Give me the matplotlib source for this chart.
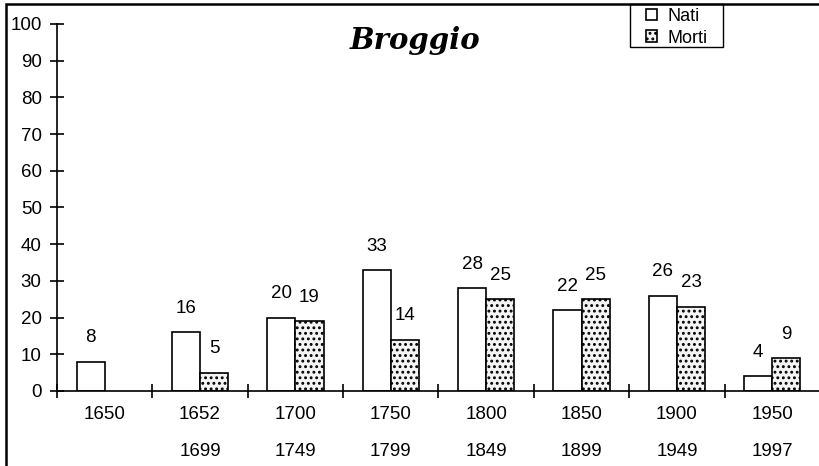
import numpy as np
import matplotlib
matplotlib.use("Agg")
import matplotlib.pyplot as plt
from matplotlib.patches import Rectangle

plt.rcParams["font.family"] = ["Liberation Sans", "DejaVu Sans"]
plt.rcParams["hatch.color"] = "#8a8a8a"
plt.rcParams["hatch.linewidth"] = 1.3

periods = ["1650", "1652\n1699", "1700\n1749", "1750\n1799", "1800\n1849",
           "1850\n1899", "1900\n1949", "1950\n1997"]
nati = [8, 16, 20, 33, 28, 22, 26, 4]
morti = [np.nan, 5, 19, 14, 25, 25, 23, 9]

W, H = 820, 466
fig = plt.figure(figsize=(W / 100, H / 100), dpi=100)
ax = fig.add_axes([0.0695, 0.161, 0.9305, 0.7876])

x = np.arange(len(periods))
w = 0.295
b1 = ax.bar(x - w / 2, nati, w, color="white", edgecolor="black", lw=1.2,
            label="Nati")
b2 = ax.bar(x + w / 2, morti, w, color="#f4f4f4", edgecolor="black", lw=1.2,
            hatch="...", label="Morti")

for bars, vals in ((b1, nati), (b2, morti)):
    for rect, v in zip(bars, vals):
        if np.isnan(v):
            continue
        ax.annotate(f"{v:g}", (rect.get_x() + rect.get_width() / 2, v),
                    xytext=(0, 11), textcoords="offset points",
                    ha="center", va="bottom", fontsize=13.5)

ax.set_xlim(-0.5, len(periods) - 0.5)
ax.set_ylim(0, 100)
ax.set_yticks(range(0, 101, 10))
ax.tick_params(axis="y", direction="inout", length=10, width=1.2,
               labelsize=13.5, pad=6)
ax.set_xticks(np.arange(-0.5, len(periods), 1))
ax.set_xticklabels([])
ax.tick_params(axis="x", which="major", direction="inout", length=10,
               width=1.2)
ax.set_xticks(x, minor=True)
ax.set_xticklabels(periods, minor=True, fontsize=13.5, linespacing=2.5,
                   va="top")
ax.tick_params(axis="x", which="minor", length=0, pad=11)

for s in ("top", "right"):
    ax.spines[s].set_visible(False)
for s in ("left", "bottom"):
    ax.spines[s].set_linewidth(1.2)

fig.text(0.506, 0.914, "Broggio", ha="center", va="center", fontsize=21,
         fontstyle="italic", fontweight="bold", family="DejaVu Serif")

# legend entries without frame, box drawn separately (Excel-style padding)
leg = fig.legend(loc="upper left", bbox_to_anchor=(646 / W, 1 - 8 / H),
                 bbox_transform=fig.transFigure, fontsize=13,
                 frameon=False, handlelength=0.6, handleheight=0.6,
                 handletextpad=0.6, borderpad=0, labelspacing=0.25,
                 borderaxespad=0)
fig.patches.append(Rectangle((630 / W, 1 - 47 / H), 93 / W, 43 / H,
                             transform=fig.transFigure, fill=False,
                             edgecolor="black", lw=1.0))

# outer chart frame (right and bottom fall outside the picture)
fig.patches.append(Rectangle((6 / W, -0.1), 1.2, 1.1 - 4 / H,
                             transform=fig.transFigure, fill=False,
                             edgecolor="black", lw=1.8))

fig.savefig("out.png", dpi=100)
